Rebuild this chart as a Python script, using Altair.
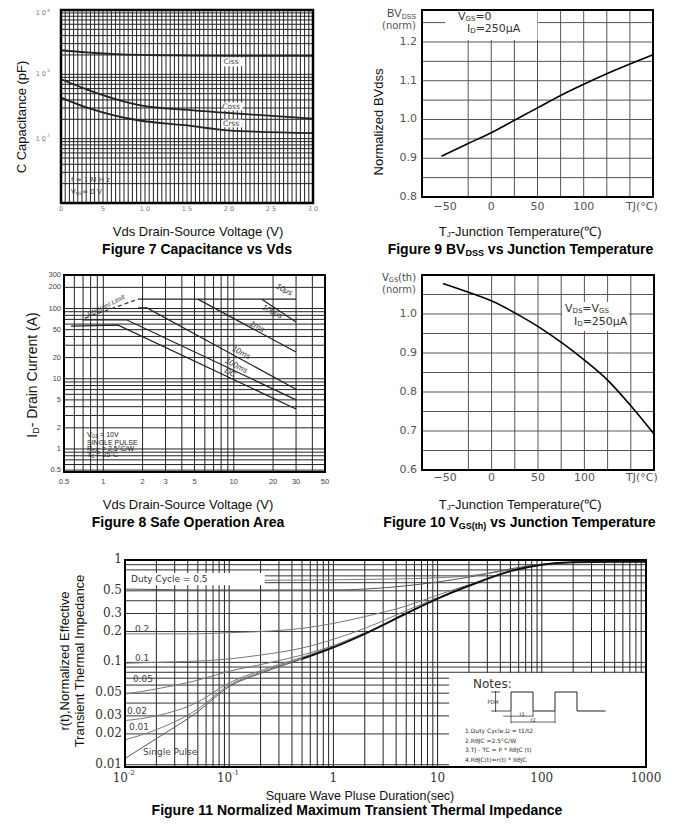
import altair as alt
import pandas as pd
import numpy as np

OFF = 8
W, H = 665, 810
SANS = "Liberation Sans"
DJ = "DejaVu Sans"
SERIF = "DejaVu Serif"

# ---------------- Figure 7: capacitance vs Vds ----------------
cap_vds_ciss = [0, 3, 6, 9.5, 15, 20, 30]
cap_ciss = [2370, 2200, 2080, 2000, 1960, 1940, 1930]
cap_vds_coss = [0, 3.2, 6.3, 9.5, 14.7, 19.8, 30]
cap_coss = [840, 575, 420, 330, 282, 251, 205]
cap_vds_crss = [0, 3.2, 6.3, 9, 14.7, 19.8, 30]
cap_crss = [435, 300, 230, 195, 162, 135, 122]
cap_xticks = [0, 5, 10, 15, 20, 25, 30]
cap_xtick_text = ["0", "5", "1 0", "1 5", "2 0", "2 5", "3 0"]
cap_yticks = [1000, 100]
cap_ytick_exp = ["3", "2"]
cap_ytop = [10000]
cap_ytop_exp = ["4"]

# ---------------- Figure 9: BVdss vs Tj ----------------
bv_tj = [-54, -25, 0, 25, 50, 75, 100, 125, 150, 175]
bv_norm = [0.905, 0.938, 0.966, 0.998, 1.030, 1.062, 1.091, 1.118, 1.143, 1.167]
bv_yticks = [0.8, 0.9, 1.0, 1.1, 1.2]

# ---------------- Figure 10: Vgs(th) vs Tj ----------------
vth_tj = [-52.5, -22, 1.5, 25, 54, 77, 102, 126, 151, 175]
vth_norm = [1.078, 1.053, 1.032, 1.003, 0.962, 0.924, 0.878, 0.828, 0.762, 0.692]
vth_yticks = [0.6, 0.7, 0.8, 0.9, 1.0]
tj_xticks = [-50, 0, 50, 100]

# ---------------- Figure 8: safe operating area ----------------
soa_dc_v, soa_dc_a = [0.566, 1.30, 30], [56, 58, 3.7]
soa_100ms_v, soa_100ms_a = [0.699, 1.52, 30], [68.6, 68.6, 5.0]
soa_10ms_v, soa_10ms_a = [1.85, 2.16, 30], [102, 102, 7.1]
soa_1ms_v, soa_1ms_a = [5.3, 30], [136, 24]
soa_100us_v, soa_100us_a = [16.4, 30], [136, 64]
soa_10us_v, soa_10us_a = [1.85, 30], [136, 136]
soa_rds_v, soa_rds_a = [0.724, 1.85], [73, 136]
soa_xticks = [0.5, 1, 2, 3, 5, 10, 20, 30, 50]
soa_yticks = [300, 200, 100, 50, 20, 10, 5, 2, 1, 0.5]

# ---------------- Figure 11: transient thermal impedance ----------------
zth_t = [0.01, 0.02, 0.05, 0.1, 0.2, 0.5, 1, 2, 5, 10, 20, 50, 100, 200, 500, 1000]
zth_single = [0.0115, 0.018, 0.033, 0.058, 0.078, 0.108, 0.14, 0.19, 0.30, 0.42, 0.56, 0.78, 0.90, 0.95, 0.96, 0.96]
zth_d001 = [0.0175, 0.022, 0.035, 0.060, 0.080, 0.110, 0.141]
zth_d002 = [0.027, 0.030, 0.041, 0.063, 0.083, 0.112, 0.143]
zth_d005 = [0.049, 0.055, 0.067, 0.082, 0.095, 0.118, 0.146, 0.195]
zth_d01 = [0.098, 0.100, 0.103, 0.108, 0.118, 0.138, 0.168, 0.215, 0.320, 0.430]
zth_d02 = [0.19, 0.19, 0.19, 0.195, 0.20, 0.215, 0.24, 0.28, 0.355, 0.455, 0.575]
zth_d05 = [0.52, 0.515, 0.51, 0.51, 0.51, 0.51, 0.51, 0.52, 0.56, 0.61, 0.68, 0.82, 0.91, 0.95, 0.96, 0.96]
zth_up_t = [0.22, 1, 3, 10, 20, 50, 100, 200]
zth_up = [0.634, 0.64, 0.65, 0.67, 0.70, 0.80, 0.90, 0.95]
zth_yticks = [1, 0.5, 0.3, 0.2, 0.1, 0.05, 0.03, 0.02, 0.01]
zth_yticks_text = ["1", "0.5", "0.3", "0.2", "0.1", "0.05", "0.03", "0.02", "0.01"]
zth_xticks = [1, 10, 100, 1000]
zth_xticks_exp = [0.01, 0.1]
zth_xticks_sup = ["-2", "-1"]
note_wave_t = [0, 0, 1, 1, 2, 2, 3, 3, 4.3]
note_wave_v = [0, 1, 1, 0, 0, 1, 1, 0, 0]

DUMMY = pd.DataFrame({"a": [0]})

# ---------- text width estimate ----------
_UP_R = dict(zip("ABCDEFGHIJKLMNOPQRSTUVWXYZ", [667,667,722,722,667,611,778,722,278,500,667,556,833,722,778,667,778,722,667,611,722,667,944,667,667,611]))
_LO_R = dict(zip("abcdefghijklmnopqrstuvwxyz", [556,556,500,556,556,278,556,556,222,222,500,222,833,556,556,556,556,333,500,278,556,500,722,500,500,500]))
_UP_B = dict(zip("ABCDEFGHIJKLMNOPQRSTUVWXYZ", [722,722,722,722,667,611,778,722,278,556,722,611,833,722,778,667,778,722,667,611,722,667,944,667,667,611]))
_LO_B = dict(zip("abcdefghijklmnopqrstuvwxyz", [556,611,556,611,556,333,611,611,278,278,556,278,889,611,611,611,611,389,556,333,611,556,778,556,556,500]))
_PUN = {" ": 278, "(": 333, ")": 333, "-": 333, ".": 278, ",": 278, "/": 278, ":": 278, "=": 584, "℃": 1000, "μ": 576}
_DJW = {"I": 295, "i": 278, "l": 278, "j": 278, "f": 352, "t": 392, "r": 411, "m": 974, "w": 818,
        "M": 863, "W": 989, "D": 770, "G": 775, "S": 635, "V": 684, "A": 684, "B": 686, "s": 521,
        "h": 634, "n": 634, "o": 612, "(": 390, ")": 390, "=": 838, " ": 318, "μ": 636, "C": 698}


def tw(text, size, bold=False, font=SANS):
    if font == DJ:
        tot = 0
        for c in text:
            if c in _DJW:
                tot += _DJW[c]
            elif c.isdigit():
                tot += 636
            elif c.isupper():
                tot += 700
            else:
                tot += 610
        return tot * size / 1000
    up, lo = (_UP_B, _LO_B) if bold else (_UP_R, _LO_R)
    tot = 0
    for c in text:
        tot += up.get(c) or lo.get(c) or _PUN.get(c, 556)
    return tot * size / 1000


def T(text, x, y, size=10, font=SANS, color="#000", bold=False, italic=False,
      align="center", angle=0):
    mk = dict(font=font, fontSize=size, color=color, align=align, baseline="middle")
    if bold:
        mk["fontWeight"] = "bold"
    if italic:
        mk["fontStyle"] = "italic"
    if angle:
        mk["angle"] = angle
    return alt.Chart(DUMMY).mark_text(**mk).encode(
        x=alt.value(x - OFF), y=alt.value(y - OFF), text=alt.value(text))


def rich(parts, x, y, anchor="center", angle=0, font=SANS, color="#000"):
    widths = [tw(t, s, b, font) for (t, s, b, sh) in parts]
    total = sum(widths)
    acc = -total / 2 if anchor == "center" else 0
    out = []
    for (t, s, b, sh), w in zip(parts, widths):
        lead = len(t) - len(t.lstrip(" "))
        shift = tw(" " * lead, s, b, font)
        txt = t.strip(" ")
        pos = acc + shift
        if angle == 270:
            out.append(T(txt, x + sh, y - pos, s, font, color, b, align="left", angle=270))
        else:
            out.append(T(txt, x + pos, y + sh, s, font, color, b, align="left"))
        acc += w
    return out


def log_grid(lo, hi):
    vals = []
    for e in range(-3, 5):
        for m in range(1, 10):
            v = m * 10.0 ** e
            if lo * 1.0001 < v < hi * 0.9999:
                vals.append(round(v, 6))
    return vals


class Panel:
    def __init__(self, xdom, xpx, ydom, ypx, xlog=False, ylog=False):
        self.xdom, self.ydom = xdom, ydom
        self.sx = self._sc(xdom, xpx, xlog)
        self.sy = self._sc(ydom, ypx, ylog)
        self.layers = []

    @staticmethod
    def _sc(dom, pxr, log):
        kw = dict(domain=dom, range=[pxr[0] - OFF, pxr[1] - OFF], nice=False)
        if log:
            kw["type"] = "log"
        else:
            kw["zero"] = False
        return alt.Scale(**kw)

    def X(self, f):
        return alt.X(f, type="quantitative", scale=self.sx, axis=None)

    def Y(self, f):
        return alt.Y(f, type="quantitative", scale=self.sy, axis=None)

    def vgrid(self, vals, color="#333", w=1):
        d = pd.DataFrame({"v": vals, "lo": self.ydom[0], "hi": self.ydom[1]})
        self.layers.append(alt.Chart(d).mark_rule(color=color, strokeWidth=w).encode(
            x=self.X("v"), y=self.Y("lo"), y2=alt.Y2("hi")))

    def hgrid(self, vals, color="#333", w=1):
        d = pd.DataFrame({"v": vals, "lo": self.xdom[0], "hi": self.xdom[1]})
        self.layers.append(alt.Chart(d).mark_rule(color=color, strokeWidth=w).encode(
            y=self.Y("v"), x=self.X("lo"), x2=alt.X2("hi")))

    def box(self, x0, x1, y0, y1, fill="white"):
        d = pd.DataFrame({"x0": [x0], "x1": [x1], "y0": [y0], "y1": [y1]})
        self.layers.append(alt.Chart(d).mark_rect(color=fill, strokeWidth=0).encode(
            x=self.X("x0"), x2=alt.X2("x1"), y=self.Y("y0"), y2=alt.Y2("y1")))

    def frame(self, w=2, color="#000"):
        d = pd.DataFrame({"x0": [self.xdom[0]], "x1": [self.xdom[1]],
                          "y0": [self.ydom[0]], "y1": [self.ydom[1]]})
        self.layers.append(alt.Chart(d).mark_rect(filled=False, color=color, strokeWidth=w).encode(
            x=self.X("x0"), x2=alt.X2("x1"), y=self.Y("y0"), y2=alt.Y2("y1")))

    def line(self, xs, ys, color="#111", w=1.5, dash=None, interp="monotone"):
        d = pd.DataFrame({"x": xs, "y": ys, "i": list(range(len(xs)))})
        kw = dict(color=color, strokeWidth=w, interpolate=interp)
        if dash:
            kw["strokeDash"] = dash
        self.layers.append(alt.Chart(d).mark_line(**kw).encode(
            x=self.X("x"), y=self.Y("y"), order=alt.Order("i:Q")))

    def xlab(self, vals, texts, ypx, size=8, font=SANS, color="#444", align="center", dx=0, dy=0):
        d = pd.DataFrame({"v": vals, "t": texts})
        self.layers.append(alt.Chart(d).mark_text(
            font=font, fontSize=size, color=color, align=align, baseline="middle", dx=dx, dy=dy
        ).encode(x=self.X("v"), y=alt.value(ypx - OFF), text="t:N"))

    def ylab(self, vals, texts, xpx, size=8, font=SANS, color="#444", align="right", dx=0, dy=0):
        d = pd.DataFrame({"v": vals, "t": texts})
        self.layers.append(alt.Chart(d).mark_text(
            font=font, fontSize=size, color=color, align=align, baseline="middle", dx=dx, dy=dy
        ).encode(y=self.Y("v"), x=alt.value(xpx - OFF), text="t:N"))

    def chart(self):
        return alt.layer(*self.layers)


deco = []

# ================= Figure 7 =================
p7 = Panel([0, 30], [61, 313], [10, 10000], [203, 10], ylog=True)
p7.vgrid(list(np.arange(0.5, 30, 0.5)), color="#222", w=1)
p7.hgrid(log_grid(10, 10000), color="#222", w=1)
p7.line(cap_vds_ciss, cap_ciss, color="#222", w=1.8)
p7.line(cap_vds_coss, cap_coss, color="#222", w=1.8)
p7.line(cap_vds_crss, cap_crss, color="#222", w=1.8)
p7.box(19.3, 21.6, 1330, 1830)
p7.box(19.3, 21.6, 275, 365)
p7.box(19.3, 21.6, 150, 198)
p7.xlab(cap_xticks, cap_xtick_text, 209, size=6.5, font=DJ, color="#777")
p7.ylab(cap_yticks, ["1 0"] * 2, 46, size=6.5, font=DJ, color="#777")
p7.ylab(cap_yticks, cap_ytick_exp, 47, size=4.5, font=DJ, color="#777", align="left", dy=-3)
p7.ylab(cap_ytop, ["1 0"], 46, size=6.5, font=DJ, color="#777", dy=3)
p7.ylab(cap_ytop, cap_ytop_exp, 47, size=4.5, font=DJ, color="#777", align="left", dy=1)
p7.frame(w=2.5)
deco += [T("Ciss", 231, 62, 7.5, DJ, "#444"), T("Coss", 231, 107, 7.5, DJ, "#444"),
         T("Crss", 231, 124, 7.5, DJ, "#444")]
deco.append(T("f = 1 M H z", 71, 180, 7, DJ, "#444", align="left"))
deco += rich([("V", 7, False, 0), ("GS", 4.5, False, 1.5), ("= 0  V", 7, False, 0)], 71, 192,
             anchor="left", font=DJ, color="#444")
deco.append(T("C Capacitance (pF)", 22, 117, 13, SANS, "#111", angle=270))
deco.append(T("Vds Drain-Source Voltage (V)", 198, 232, 13, SANS, "#111"))
deco.append(T("Figure 7 Capacitance vs Vds", 197, 250, 14, SANS, "#000", bold=True))

# ================= Figure 9 =================
p9 = Panel([-75, 175], [422, 653], [0.8, 1.2825], [197, 10])
p9.vgrid([-25, 0, 25, 50, 75, 100, 125, 150], color="#555")
p9.hgrid([0.85, 0.9, 0.95, 1.0, 1.05, 1.1, 1.15, 1.2, 1.25], color="#555")
p9.box(-50, 50, 1.205, 1.2825)
p9.line(bv_tj, bv_norm, color="#000", w=1.6)
p9.ylab(bv_yticks, ["0.8", "0.9", "1.0", "1.1", "1.2"], 417, size=11, font=DJ, color="#555")
p9.xlab(tj_xticks, ["−50", "0", "50", "100"], 207, size=11, font=DJ, color="#555")
p9.frame(w=2)
deco.append(T("TJ(°C)", 626, 207, 11, DJ, "#555", align="left"))
deco += rich([("BV", 11, False, 0), ("DSS", 7, False, 3)], 387, 14, anchor="left", color="#444")
deco.append(T("(norm)", 382, 26, 10, DJ, "#555", align="left"))
deco += rich([("V", 11, False, 0), ("GS", 7, False, 2), ("=0", 11, False, 0)], 458, 17,
             anchor="left", font=DJ, color="#333")
deco += rich([("I", 11, False, 0), ("D", 7, False, 2), ("=250μA", 11, False, 0)], 467, 29,
             anchor="left", font=DJ, color="#333")
deco.append(T("Normalized BVdss", 379, 122, 13, SANS, "#111", angle=270))
deco += rich([("T", 13, False, 0), ("J", 8, False, 3), ("-Junction Temperature(℃)", 13, False, 0)],
             521, 232, color="#111")
deco += rich([("Figure 9 BV", 14, True, 0), ("DSS", 9, True, 3), (" vs Junction Temperature", 14, True, 0)],
             521, 250)

# ================= Figure 8 =================
p8 = Panel([0.5, 50], [64, 325], [0.47, 300], [472, 275], xlog=True, ylog=True)
p8.vgrid(log_grid(0.5, 50), color="#222")
p8.hgrid(log_grid(0.47, 300), color="#222")
for xs_, ys_ in [(soa_dc_v, soa_dc_a), (soa_100ms_v, soa_100ms_a), (soa_10ms_v, soa_10ms_a),
                 (soa_1ms_v, soa_1ms_a), (soa_100us_v, soa_100us_a), (soa_10us_v, soa_10us_a)]:
    p8.line(xs_, ys_, color="#222", w=1.2, interp="linear")
p8.line(soa_rds_v, soa_rds_a, color="#333", w=1.2, dash=[4, 3], interp="linear")
p8.xlab(soa_xticks, ["0.5", "1", "2", "3", "5", "10", "20", "30", "50"], 482, size=7.5, color="#444")
p8.ylab(soa_yticks, ["300", "200", "100", "50", "20", "10", "5", "2", "1", "0.5"], 61, size=7.5, color="#444")
p8.frame(w=2)
for txt, x, y in [("10μs", 284, 290), ("100μs", 272, 312), ("1ms", 257, 327),
                  ("10ms", 241, 353), ("100ms", 236, 366), ("DC", 230, 373)]:
    deco.append(T(txt, x, y, 8, SANS, "#333", italic=True, angle=27))
deco.append(T("RDS(on) Limit", 106, 306, 6.5, SANS, "#333", italic=True, angle=333))
deco += rich([("V", 7, False, 0), ("GS", 4.5, False, 1.5), (" = 10V", 7, False, 0)], 87, 435,
             anchor="left", color="#222")
deco.append(T("SINGLE PULSE", 87, 443, 7, SANS, "#222", align="left"))
deco += rich([("R", 7, False, 0), ("θJC", 4.5, False, 1.5), (" = 2.5°C/W", 7, False, 0)], 87, 449,
             anchor="left", color="#222")
deco += rich([("T", 7, False, 0), ("C", 4.5, False, 1.5), (" = 25°C", 7, False, 0)], 87, 455,
             anchor="left", color="#222")
deco += rich([("I", 14, False, 0), ("D", 9, False, 3), ("- Drain Current (A)", 14, False, 0)],
             33, 375, angle=270, color="#111")
deco.append(T("Vds Drain-Source Voltage (V)", 188, 505, 13, SANS, "#111"))
deco.append(T("Figure 8 Safe Operation Area", 188, 523, 14, SANS, "#000", bold=True))

# ================= Figure 10 =================
p10 = Panel([-75, 175], [422, 654], [0.6, 1.1], [470, 275])
p10.vgrid([-25, 0, 25, 50, 75, 100, 125, 150], color="#555")
p10.hgrid([0.65, 0.7, 0.75, 0.8, 0.85, 0.9, 0.95, 1.0, 1.05], color="#555")
p10.box(76, 148, 0.957, 1.031)
p10.line(vth_tj, vth_norm, color="#000", w=1.6)
p10.ylab(vth_yticks, ["0.6", "0.7", "0.8", "0.9", "1.0"], 417, size=11, font=DJ, color="#555")
p10.xlab(tj_xticks, ["−50", "0", "50", "100"], 478, size=11, font=DJ, color="#555")
p10.frame(w=2)
deco.append(T("TJ(°C)", 626, 478, 11, DJ, "#555", align="left"))
deco += rich([("V", 10, False, 0), ("GS", 6.5, False, 2), ("(th)", 10, False, 0)], 382, 278,
             anchor="left", font=DJ, color="#444")
deco.append(T("(norm)", 382, 290, 10, DJ, "#555", align="left"))
deco += rich([("V", 11, False, 0), ("DS", 7, False, 2), ("=V", 11, False, 0), ("GS", 7, False, 2)],
             565, 309, anchor="left", font=DJ, color="#333")
deco += rich([("I", 11, False, 0), ("D", 7, False, 2), ("=250μA", 11, False, 0)], 574, 322,
             anchor="left", font=DJ, color="#333")
deco += rich([("T", 13, False, 0), ("J", 8, False, 3), ("-Junction Temperature(℃)", 13, False, 0)],
             521, 505, color="#111")
deco += rich([("Figure 10 V", 14, True, 0), ("GS(th)", 9, True, 3), (" vs Junction Temperature", 14, True, 0)],
             520, 523)

# ================= Figure 11 =================
p11 = Panel([0.01, 1000], [125, 646], [0.0095, 1], [767, 560], xlog=True, ylog=True)
p11.vgrid(log_grid(0.01, 1000), color="#222")
p11.hgrid(log_grid(0.0095, 1), color="#333")
p11.box(0.01, 0.22, 0.567, 0.745)
p11.box(12.9, 1000, 0.0095, 0.0788)
gray = "#777"
p11.line(zth_t[:7], zth_d001, color=gray, w=1)
p11.line(zth_t[:7], zth_d002, color=gray, w=1)
p11.line(zth_t[:8], zth_d005, color=gray, w=1)
p11.line(zth_t[:10], zth_d01, color=gray, w=1)
p11.line(zth_t[:11], zth_d02, color=gray, w=1)
p11.line(zth_t, zth_d05, color="#555", w=1)
p11.line(zth_up_t, zth_up, color=gray, w=1)
p11.line(zth_t[:7], zth_single[:7], color="#555", w=1)
p11.line(zth_t[5:], zth_single[5:], color="#111", w=2)
p11.ylab(zth_yticks, zth_yticks_text, 122, size=12, font=SERIF, color="#333", dy=-1)
p11.xlab(zth_xticks, ["1", "10", "100", "1000"], 778, size=12, font=SERIF, color="#333")
p11.xlab(zth_xticks_exp, ["10", "10"], 778, size=12, font=SERIF, color="#333", align="right", dx=3)
p11.xlab(zth_xticks_exp, zth_xticks_sup, 773, size=7, font=SERIF, color="#333", align="left", dx=3)
p11.frame(w=2)
deco.append(T("Duty Cycle = 0.5", 131, 579, 9, DJ, "#333", align="left"))
for txt, x, y in [("0.2", 135, 629), ("0.1", 135, 658), ("0.05", 133, 679),
                  ("0.02", 127, 711), ("0.01", 129, 727), ("Single Pulse", 143, 752)]:
    deco.append(T(txt, x, y, 9, DJ, "#444", align="left"))
deco.append(T("Notes:", 473, 684, 12, DJ, "#333", align="left"))
for i, txt in enumerate(["1.Duty Cycle,D = t1/t2", "2.RθJC =2.5°C/W",
                         "3.TJ - TC = P * RθJC (t)", "4.RθJC(t)=r(t) * RθJC"]):
    deco.append(T(txt, 465, 731 + 9.5 * i, 6, DJ, "#333", align="left"))
deco.append(T("PDM", 493, 702, 5, DJ, "#333"))
deco.append(T("t1", 522, 714, 5, DJ, "#333"))
deco.append(T("t2", 533, 720, 5, DJ, "#333"))
deco.append(T("r(t),Normalized Effective", 65, 661, 13, SANS, "#111", angle=270))
deco.append(T("Transient Thermal Impedance", 80, 661, 13, SANS, "#111", angle=270))
deco.append(T("Square Wave Pluse Duration(sec)", 360, 796, 12.5, SANS, "#111"))
deco.append(T("Figure 11 Normalized Maximum Transient Thermal Impedance", 357, 811, 14, SANS, "#000", bold=True))

# waveform sketch inside the notes box
wave = Panel([0, 4], [511, 599], [0, 1], [711, 692])
wave.line(note_wave_t, note_wave_v, color="#222", w=1, interp="linear")
wave.line([-0.7, -0.7], [-0.05, 1.05], color="#222", w=0.8, interp="linear")
wave.line([-0.9, -0.5], [1, 1], color="#222", w=0.8, interp="linear")
wave.line([-0.9, 0], [0, 0], color="#222", w=0.8, interp="linear")
wave.line([-0.35, 1], [-0.27, -0.27], color="#222", w=0.7, interp="linear")
wave.line([0, 2], [-0.58, -0.58], color="#222", w=0.7, interp="linear")
wave.line([0, 0], [0, -0.65], color="#222", w=0.7, interp="linear")
wave.line([1, 1], [0, -0.32], color="#222", w=0.7, interp="linear")
wave.line([2, 2], [0, -0.65], color="#222", w=0.7, interp="linear")

chart = alt.layer(
    p7.chart(), p9.chart(), p8.chart(), p10.chart(), p11.chart(), wave.chart(), *deco
).resolve_scale(x="independent", y="independent").properties(
    width=W, height=H, padding=0, autosize=alt.AutoSizeParams(type="none"),
    background="white"
).configure_view(stroke=None)

chart.save("out.html", embed_options={"renderer": "svg", "actions": False})
